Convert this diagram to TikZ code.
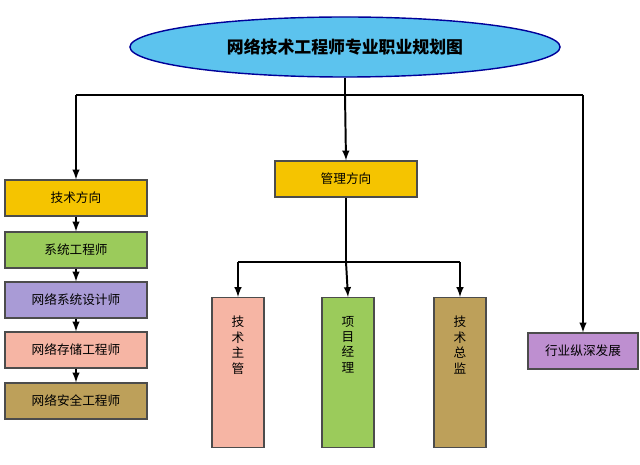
\documentclass[tikz,border=0pt]{standalone}
\usepackage{fontspec}
\setmainfont{Noto Sans CJK SC}
\usetikzlibrary{shapes.geometric}
\definecolor{gold}{HTML}{F5C400}
\definecolor{leaf}{HTML}{9BCB5B}
\definecolor{lav}{HTML}{A99BD6}
\definecolor{salmon}{HTML}{F6B5A4}
\definecolor{khaki}{HTML}{BDA05A}
\definecolor{plum}{HTML}{BE8FD0}
\definecolor{sky}{HTML}{5CC3EE}
\begin{document}
\begin{tikzpicture}[x=0.025cm,y=-0.025cm]
 	\tikzstyle{box}=[draw=black!70,line width=0.8pt,minimum height=0.9cm,font=\small]
 	\tikzstyle{hbox}=[box,minimum width=3.55cm]
 	\tikzstyle{vbox}=[box,minimum width=1.3cm,minimum height=3.75cm,align=center,text depth=0pt]
 	\tikzstyle{arr}=[line width=1.4pt,-latex]
 	\useasboundingbox (0,0) rectangle (640,465);
 	\node [ellipse,draw=blue!60!black,line width=1pt,fill=sky,minimum width=10.75cm,minimum height=1.5cm,font=\bfseries\large] (title) at (345,47) {网络技术工程师专业职业规划图};
 	\node [hbox,fill=gold] (tech) at (76,198) {技术方向};
 	\node [hbox,fill=leaf] (sys) at (76,250) {系统工程师};
 	\node [hbox,fill=lav] (design) at (76,300) {网络系统设计师};
 	\node [hbox,fill=salmon] (store) at (76,350) {网络存储工程师};
 	\node [hbox,fill=khaki] (safe) at (76,401) {网络安全工程师};
 	\node [hbox,fill=gold] (mgmt) at (346,179) {管理方向};
 	\node [vbox,fill=salmon,anchor=north] (lead) at (238,297) {};
 	\node [vbox,fill=leaf,anchor=north] (proj) at (348,297) {};
 	\node [vbox,fill=khaki,anchor=north] (cto) at (460,297) {};
 	\node [font=\small,align=center,anchor=north] at (lead.north) [yshift=-0.35cm] {技\\术\\主\\管};
 	\node [font=\small,align=center,anchor=north] at (proj.north) [yshift=-0.35cm] {项\\目\\经\\理};
 	\node [font=\small,align=center,anchor=north] at (cto.north) [yshift=-0.35cm] {技\\术\\总\\监};
 	\node [box,fill=plum,minimum width=2.75cm] (deep) at (583,351) {行业纵深发展};
 	\coordinate (top) at (345,95);
 	\coordinate (mid) at (346,262);
 	\draw [line width=1.4pt] (title.south) -- (top);
 	\draw [line width=1.4pt] (76,95) -- (583,95);
 	\draw [arr] (76,95) -- (tech.north);
 	\draw [arr] (top) -- (mgmt.north);
 	\draw [arr] (583,95) -- (deep.north);
 	\draw [arr] (tech) -- (sys);
 	\draw [arr] (sys) -- (design);
 	\draw [arr] (design) -- (store);
 	\draw [arr] (store) -- (safe);
 	\draw [line width=1.4pt] (mgmt.south) -- (mid);
 	\draw [line width=1.4pt] (238,262) -- (460,262);
 	\draw [arr] (238,262) -- (lead.north);
 	\draw [arr] (mid) -- (proj.north);
 	\draw [arr] (460,262) -- (cto.north);
\end{tikzpicture}
\end{document}
